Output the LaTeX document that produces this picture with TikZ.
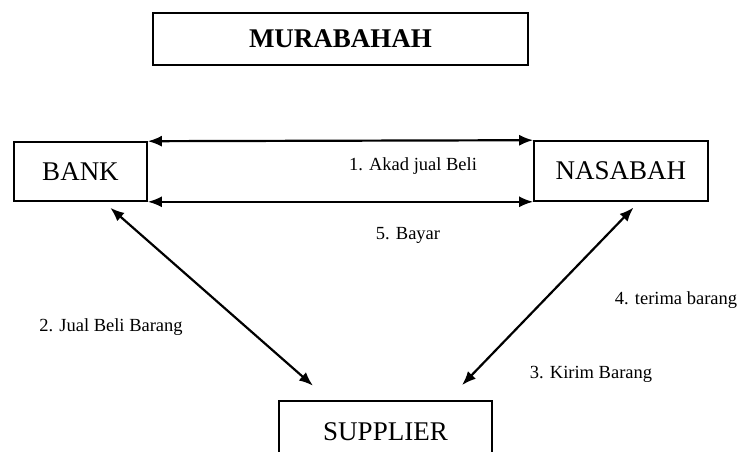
\documentclass[tikz,border=0pt]{standalone}
\usepackage{fontspec}
\setmainfont{Liberation Serif}
\usetikzlibrary{arrows.meta}
\begin{document}
\begin{tikzpicture}[x=1pt,y=-1pt,
    box/.style={draw,line width=1.6pt,inner sep=0pt,font=\fontsize{27}{30}\selectfont},
    lbl/.style={inner sep=0pt,font=\fontsize{18.5}{20}\selectfont},
    arr/.style={line width=2.2pt,{Latex[length=14pt,width=11pt]}-{Latex[length=14pt,width=11pt]}}]
            \useasboundingbox (0,0) rectangle (742,451);
            \node[box,minimum width=375pt,minimum height=52pt,font=\fontsize{27}{30}\selectfont\bfseries] (judul) at (340.5,39) {MURABAHAH};
            \node[box,minimum width=133pt,minimum height=59pt] (bank) at (80.5,171.5) {BANK};
            \node[box,minimum width=174pt,minimum height=60pt] (nasabah) at (621,171) {NASABAH};
            \node[box,minimum width=213pt,minimum height=62pt] (supplier) at (385.5,432) {SUPPLIER};

            \node[lbl] (akad) at (413,166) {1. Akad jual Beli};
            \node[lbl] (bayar) at (408,235) {5. Bayar};
            \node[lbl] (jualbeli) at (111,327) {2. Jual Beli Barang};
            \node[lbl] (terima) at (676,300) {4. terima barang};
            \node[lbl] (kirim) at (591,374) {3. Kirim Barang};

            \draw[arr] (bank.north east) -- (nasabah.north west);
            \draw[arr] (bank.south east) -- (nasabah.south west);
            \draw[arr,shorten <=9pt,shorten >=22pt] ([xshift=23pt]bank.south) -- ([xshift=-56pt]supplier.north);
            \draw[arr,shorten <=8pt,shorten >=21pt] ([xshift=18pt]nasabah.south) -- ([xshift=62pt]supplier.north);
        \end{tikzpicture}
\end{document}
